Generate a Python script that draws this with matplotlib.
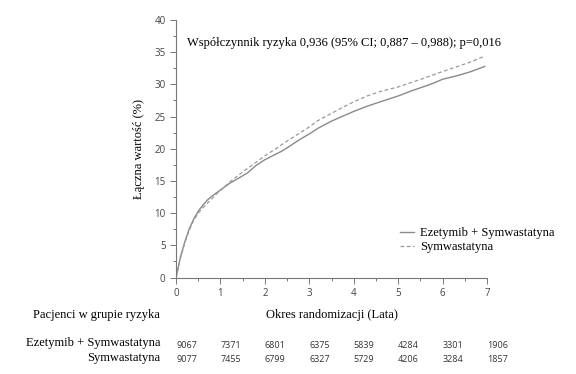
import matplotlib.pyplot as plt
import numpy as np

# czas (lata) i krzywe skumulowanej częstości (%)
t_ez = [0, 0.05, 0.1, 0.2, 0.3, 0.4, 0.5, 0.6, 0.7, 0.8, 0.9, 1.0, 1.2, 1.4, 1.6,
        1.8, 2.0, 2.2, 2.4, 2.6, 2.8, 3.0, 3.2, 3.5, 3.8, 4.0, 4.3, 4.6, 5.0, 5.3,
        5.6, 5.8, 6.0, 6.3, 6.6, 6.8, 6.95]
v_ez = [0, 1.6, 3.2, 5.6, 7.6, 9.1, 10.3, 11.2, 12.0, 12.6, 13.1, 13.6, 14.6, 15.4, 16.2,
        17.4, 18.3, 19.0, 19.7, 20.6, 21.5, 22.3, 23.2, 24.3, 25.2, 25.8, 26.6, 27.3, 28.2, 29.0,
        29.7, 30.2, 30.8, 31.3, 31.9, 32.4, 32.8]

t_sym = [0, 0.05, 0.1, 0.2, 0.3, 0.4, 0.5, 0.6, 0.7, 0.8, 0.9, 1.0, 1.2, 1.5, 1.8,
         2.0, 2.2, 2.5, 2.8, 3.0, 3.2, 3.5, 3.8, 4.0, 4.3, 4.6, 5.0, 5.3, 5.6, 6.0,
         6.3, 6.6, 6.95]
v_sym = [0, 1.5, 3.0, 5.4, 7.4, 8.9, 10.0, 10.8, 11.5, 12.2, 12.9, 13.5, 14.8, 16.4, 17.9,
         18.9, 19.8, 21.2, 22.5, 23.4, 24.4, 25.5, 26.6, 27.3, 28.2, 28.9, 29.6, 30.3, 31.0, 32.0,
         32.7, 33.4, 34.4]

years = [0, 1, 2, 3, 4, 5, 6, 7]
risk_ez = [9067, 7371, 6801, 6375, 5839, 4284, 3301, 1906]
risk_sym = [9077, 7455, 6799, 6327, 5729, 4206, 3284, 1857]

serif = "Liberation Serif"
sans = "Open Sans"

fig = plt.figure(figsize=(5.76, 3.74), dpi=100)
ax = fig.add_axes([0.3056, 0.258, 0.5399, 0.6885])

ax.plot(t_ez, v_ez, color="#8a8a8a", lw=1.0, label="Ezetymib + Symwastatyna")
ax.plot(t_sym, v_sym, color="#9a9a9a", lw=0.9, ls=(0, (3, 2)), label="Symwastatyna")

ax.set_xlim(0, 7)
ax.set_ylim(0, 40)
ax.set_xticks(years)
ax.set_xticks(np.arange(0.5, 7, 1), minor=True)
ax.set_yticks(range(0, 41, 5))
ax.set_yticks(np.arange(2.5, 40, 5), minor=True)
for s in ["top", "right"]:
    ax.spines[s].set_visible(False)
for s in ["left", "bottom"]:
    ax.spines[s].set_color("#777777")
    ax.spines[s].set_linewidth(0.8)
ax.tick_params(which="both", colors="#777777", labelcolor="#444444", labelsize=7, width=0.7)
ax.tick_params(which="major", length=4)
ax.tick_params(which="minor", length=2.5)
for lab in ax.get_xticklabels() + ax.get_yticklabels():
    lab.set_family(sans)

ax.set_ylabel("Łączna wartość (%)", family=serif, fontsize=9, labelpad=7)
ax.set_xlabel("Okres randomizacji (Lata)", family=serif, fontsize=9, labelpad=7)

ax.text(0.25, 36.5, "Współczynnik ryzyka 0,936 (95% CI; 0,887 – 0,988); p=0,016",
        family=serif, fontsize=9, va="center", ha="left")

leg = ax.legend(loc="lower left", bbox_to_anchor=(0.705, 0.075), frameon=False,
                prop={"family": serif, "size": 9}, handlelength=1.1,
                handletextpad=0.5, labelspacing=0.15, borderaxespad=0)

# tabela pacjentów w grupie ryzyka
fig.text(160 / 576, 1 - 315 / 374, "Pacjenci w grupie ryzyka", family=serif,
         fontsize=9, ha="right", va="center")
fig.text(160 / 576, 1 - 343 / 374, "Ezetymib + Symwastatyna", family=serif,
         fontsize=9, ha="right", va="center")
fig.text(160 / 576, 1 - 358 / 374, "Symwastatyna", family=serif,
         fontsize=9, ha="right", va="center")
for yr, a, b in zip(years, risk_ez, risk_sym):
    xf = fig.transFigure.inverted().transform(ax.transData.transform((yr, 0)))[0]
    fig.text(xf, 1 - 345 / 374, str(a), family=sans, fontsize=6.5, color="#333333",
             ha="left", va="center")
    fig.text(xf, 1 - 360 / 374, str(b), family=sans, fontsize=6.5, color="#333333",
             ha="left", va="center")

fig.savefig("out.png", dpi=100)
